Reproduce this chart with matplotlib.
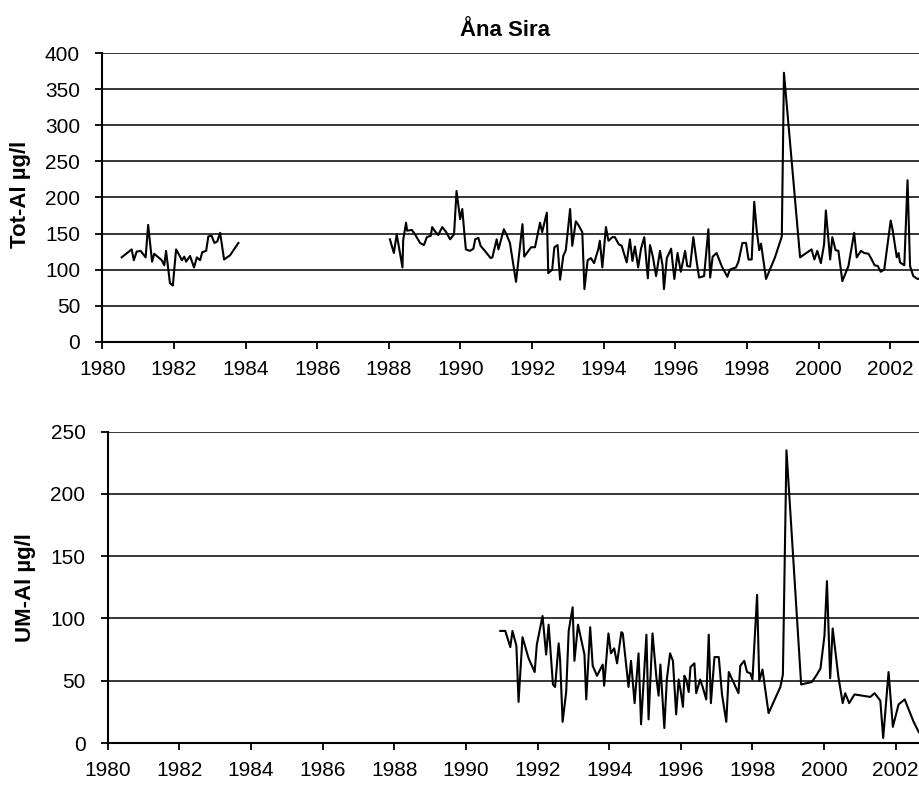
import numpy as np
import matplotlib
matplotlib.use("Agg")
from matplotlib import pyplot as plt

plt.rcParams['font.family'] = ['Liberation Sans', 'DejaVu Sans']

# Tot-Al, first sampling period (decimal year, ug/l)
tot_years_a = [1980.54, 1980.82, 1980.88, 1980.96, 1981.07, 1981.21, 1981.28, 1981.39, 1981.45,
               1981.59, 1981.66, 1981.73, 1981.78, 1981.89, 1981.97, 1982.06, 1982.15, 1982.22,
               1982.29, 1982.34, 1982.45, 1982.56, 1982.64, 1982.73, 1982.79, 1982.90, 1982.96,
               1983.05, 1983.13, 1983.21, 1983.29, 1983.40, 1983.57, 1983.80]
tot_a = [117, 128, 113, 125, 126, 117, 162, 111, 122,
         116, 113, 106, 126, 81, 78, 128, 120, 113,
         118, 111, 119, 103, 117, 113, 124, 126, 146,
         147, 137, 139, 151, 114, 120, 137]

# Tot-Al, second sampling period
tot_years_b = [1988.03, 1988.14, 1988.22, 1988.29, 1988.38, 1988.40, 1988.48, 1988.51, 1988.64,
               1988.73, 1988.87, 1988.98, 1989.06, 1989.17, 1989.21, 1989.29, 1989.38, 1989.49,
               1989.60, 1989.71, 1989.82, 1989.89, 1989.99, 1990.05, 1990.10, 1990.15, 1990.27,
               1990.36, 1990.41, 1990.50, 1990.56, 1990.68, 1990.84, 1990.89, 1991.01, 1991.06,
               1991.21, 1991.29, 1991.38, 1991.55, 1991.73, 1991.78, 1991.97, 1992.08, 1992.22,
               1992.28, 1992.41, 1992.45, 1992.56, 1992.62, 1992.71, 1992.78, 1992.87, 1992.94,
               1993.06, 1993.12, 1993.22, 1993.29, 1993.40, 1993.46, 1993.55, 1993.64, 1993.73,
               1993.85, 1993.89, 1993.96, 1994.06, 1994.13, 1994.24, 1994.31, 1994.42, 1994.50,
               1994.64, 1994.73, 1994.80, 1994.87, 1994.96, 1995.04, 1995.13, 1995.23, 1995.29,
               1995.37, 1995.46, 1995.57, 1995.64, 1995.68, 1995.76, 1995.88, 1995.97, 1996.06,
               1996.15, 1996.27, 1996.33, 1996.41, 1996.50, 1996.59, 1996.66, 1996.80, 1996.92,
               1996.97, 1997.04, 1997.15, 1997.29, 1997.45, 1997.52, 1997.69, 1997.76, 1997.87,
               1997.97, 1998.04, 1998.13, 1998.20, 1998.27, 1998.34, 1998.39, 1998.53, 1998.78,
               1998.97, 1999.03, 1999.48, 1999.80, 1999.88, 1999.96, 2000.06, 2000.15, 2000.20,
               2000.32, 2000.38, 2000.47, 2000.55, 2000.66, 2000.83, 2000.99, 2001.06, 2001.18,
               2001.27, 2001.39, 2001.48, 2001.56, 2001.65, 2001.73, 2001.83, 2002.01, 2002.06,
               2002.18, 2002.23, 2002.27, 2002.39, 2002.48, 2002.55, 2002.64, 2002.76, 2002.90]
tot_b = [142, 123, 149, 129, 103, 141, 165, 154, 155,
         149, 137, 134, 145, 147, 159, 153, 148, 159,
         152, 142, 149, 209, 170, 184, 155, 128, 126,
         129, 142, 144, 133, 126, 116, 117, 142, 128,
         156, 148, 137, 83, 163, 118, 131, 131, 165,
         152, 179, 95, 100, 131, 134, 86, 119, 127,
         184, 133, 167, 162, 152, 73, 113, 116, 109,
         129, 140, 103, 159, 140, 145, 145, 135, 133,
         110, 142, 112, 132, 103, 129, 145, 88, 134,
         118, 91, 126, 106, 73, 116, 129, 87, 123,
         97, 126, 105, 104, 145, 112, 89, 91, 156,
         89, 118, 123, 105, 90, 100, 103, 111, 137,
         137, 114, 114, 194, 154, 127, 136, 87, 117,
         146, 373, 117, 128, 114, 126, 109, 135, 182,
         114, 145, 127, 126, 84, 105, 151, 117, 126,
         123, 122, 114, 106, 105, 97, 100, 168, 156,
         117, 123, 110, 106, 224, 105, 91, 87, 88]

# UM-Al (labile aluminium)
um_years = [1990.96, 1991.10, 1991.24, 1991.30, 1991.41, 1991.47, 1991.58, 1991.75, 1991.92,
            1991.98, 1992.14, 1992.24, 1992.31, 1992.43, 1992.49, 1992.59, 1992.63, 1992.70,
            1992.80, 1992.87, 1992.98, 1993.03, 1993.13, 1993.31, 1993.36, 1993.47, 1993.54,
            1993.66, 1993.82, 1993.86, 1993.98, 1994.05, 1994.14, 1994.22, 1994.34, 1994.38,
            1994.54, 1994.61, 1994.71, 1994.82, 1994.89, 1995.04, 1995.10, 1995.21, 1995.32,
            1995.38, 1995.43, 1995.54, 1995.61, 1995.70, 1995.78, 1995.87, 1995.94, 1995.99,
            1996.06, 1996.10, 1996.15, 1996.22, 1996.27, 1996.38, 1996.43, 1996.54, 1996.61,
            1996.71, 1996.78, 1996.84, 1996.94, 1997.06, 1997.15, 1997.27, 1997.34, 1997.61,
            1997.66, 1997.77, 1997.85, 1997.94, 1998.00, 1998.13, 1998.19, 1998.28, 1998.45,
            1998.78, 1998.85, 1998.95, 1999.36, 1999.66, 1999.80, 1999.90, 2000.01, 2000.08,
            2000.17, 2000.24, 2000.40, 2000.52, 2000.59, 2000.70, 2000.85, 2001.29, 2001.41,
            2001.57, 2001.65, 2001.80, 2001.92, 2002.08, 2002.25, 2002.50, 2002.64, 2002.75]
um_al = [90, 90, 77, 90, 78, 33, 85, 68, 57,
         79, 102, 71, 95, 47, 45, 80, 67, 17,
         41, 90, 109, 66, 95, 71, 35, 93, 62,
         54, 63, 46, 88, 72, 76, 64, 89, 88,
         45, 66, 32, 72, 15, 87, 19, 88, 52,
         38, 63, 12, 51, 72, 66, 23, 51, 43,
         29, 54, 51, 41, 61, 64, 40, 51, 45,
         35, 87, 32, 69, 69, 39, 17, 57, 40,
         62, 66, 57, 56, 51, 119, 50, 59, 24,
         45, 55, 235, 47, 49, 55, 60, 86, 130,
         52, 92, 53, 32, 40, 32, 39, 37, 40,
         34, 4, 57, 13, 31, 35, 17, 9, 5]

x_ticks = list(range(1980, 2003, 2))

fig = plt.figure(figsize=(9.19, 7.87), dpi=100)
ax1 = fig.add_axes([0.1113, 0.5658, 0.8887, 0.3665])
ax2 = fig.add_axes([0.1172, 0.0559, 0.8828, 0.3956])


def style_axis(ax, ymax, ystep, xmax):
    ax.set_xlim(1980, xmax)
    ax.set_ylim(0, ymax)
    ax.set_yticks(np.arange(0, ymax + 1, ystep))
    ax.set_xticks(x_ticks)
    ax.grid(axis='y', color='black', linewidth=1.1)
    ax.set_axisbelow(True)
    for side in ['top', 'right']:
        ax.spines[side].set_visible(False)
    for side in ['left', 'bottom']:
        ax.spines[side].set_linewidth(1.5)
    ax.tick_params(direction='out', length=5, width=1.3, labelsize=15)
    ax.tick_params(axis='y', pad=11)
    ax.tick_params(axis='x', pad=8)


ax1.plot(tot_years_a, tot_a, color='black', linewidth=1.5)
ax1.plot(tot_years_b, tot_b, color='black', linewidth=1.5)
style_axis(ax1, 400, 50, 2002.8)

ax2.plot(um_years, um_al, color='black', linewidth=1.5)
style_axis(ax2, 250, 50, 2002.65)

fig.text(505 / 919, 1 - 30 / 787, 'Åna Sira', ha='center', va='center',
         fontsize=16, fontweight='bold')
fig.text(21 / 919, 1 - 194 / 787, 'Tot-Al µg/l', ha='center', va='center',
         rotation=90, fontsize=16, fontweight='bold')
fig.text(25 / 919, 1 - 588 / 787, 'UM-Al µg/l', ha='center', va='center',
         rotation=90, fontsize=16, fontweight='bold')

fig.savefig('out.png', dpi=100)
